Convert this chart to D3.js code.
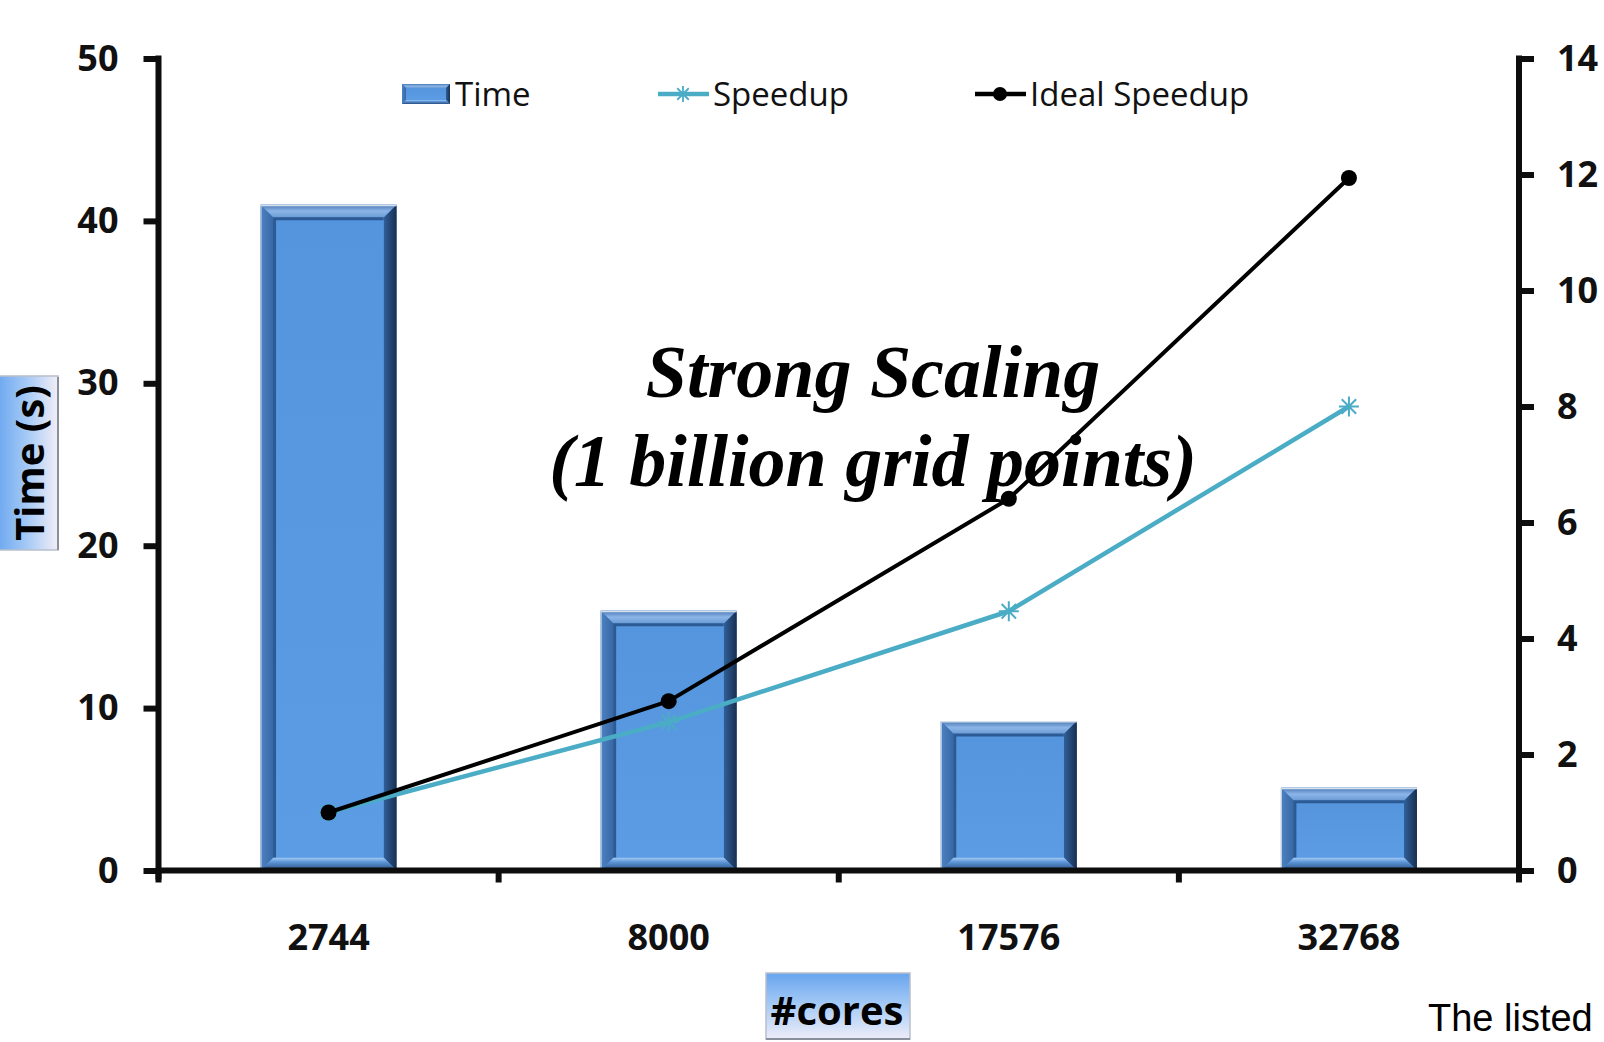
<!DOCTYPE html>
<html>
<head>
<meta charset="utf-8">
<script src="https://cdn.jsdelivr.net/npm/d3@7"></script>
<style>
  html, body { margin: 0; padding: 0; background: #fff; overflow: hidden; }
  svg { display: block; }
</style>
</head>
<body>
<svg id="chart" width="1604" height="1042"></svg>
<script>
// Strong scaling run: wall time per core count, measured and ideal speedup
const categories = ["2744", "8000", "17576", "32768"];
const timeSeconds = [41, 16, 9.2, 5.1];
const speedup = [1, 2.56, 4.47, 8.0];
const idealSpeedup = [1, 2.92, 6.41, 11.94];
const timeTicks = [0, 10, 20, 30, 40, 50];
const speedupTicks = [0, 2, 4, 6, 8, 10, 12, 14];
const legendLabels = ["Time", "Speedup", "Ideal Speedup"];
const titleLines = ["Strong Scaling", "(1 billion grid points)"];

const svg = d3.select("#chart");
const plot = { left: 158.5, right: 1519, top: 58.5, bottom: 870.5 };

const axisColor = "#0d0d0d";
const cyan = "#4bacc6";
const tickFont = "'Open Sans', sans-serif";

const x = d3.scaleBand()
  .domain(categories)
  .range([plot.left, plot.right])
  .paddingInner(0.6)
  .paddingOuter(0.3);

const yTime = d3.scaleLinear().domain([0, 50]).range([plot.bottom, plot.top]);
const ySpeed = d3.scaleLinear().domain([0, 14]).range([plot.bottom, plot.top]);

const defs = svg.append("defs");
function grad(id, vertical, stops) {
  const g = defs.append("linearGradient").attr("id", id)
    .attr("x1", 0).attr("y1", 0)
    .attr("x2", vertical ? 0 : 1).attr("y2", vertical ? 1 : 0);
  stops.forEach(([o, c]) => g.append("stop").attr("offset", o).attr("stop-color", c));
}
grad("bevTop", true, [[0, "#4877b4"], [0.5, "#8cb5e8"], [1, "#6a9ad4"]]);
grad("bevLeft", false, [[0, "#4d82c3"], [1, "#3867a4"]]);
grad("bevRight", false, [[0, "#30609a"], [1, "#182f50"]]);
grad("bevBottom", true, [[0, "#a6cdf5"], [0.35, "#5c95d8"], [1, "#284f80"]]);
grad("face", true, [[0, "#5595dd"], [1, "#5c9ce4"]]);
grad("btnH", false, [[0, "#6ea8f0"], [0.5, "#a7cbf6"], [1, "#f3eef6"]]);
grad("btnV", true, [[0, "#68a4ee"], [0.5, "#a8ccf6"], [1, "#eeecf8"]]);

const poly = pts => pts.map(p => p.join(",")).join(" ");

// draws one bevelled block into g
function bevelBlock(g, x0, x1, y0, y1, bw, shadow) {
  const b = Math.min(bw, (y1 - y0) / 2);
  g.append("rect").attr("x", x0).attr("y", y0).attr("width", x1 - x0).attr("height", y1 - y0)
    .attr("fill", "#5a96dc");
  g.append("polygon").attr("points", poly([[x0, y0], [x1, y0], [x1 - b, y0 + b], [x0 + b, y0 + b]]))
    .attr("fill", "url(#bevTop)");
  g.append("polygon").attr("points", poly([[x0, y0], [x0 + b, y0 + b], [x0 + b, y1 - b], [x0, y1]]))
    .attr("fill", "url(#bevLeft)");
  g.append("polygon").attr("points", poly([[x1, y0], [x1, y1], [x1 - b, y1 - b], [x1 - b, y0 + b]]))
    .attr("fill", "url(#bevRight)");
  g.append("polygon").attr("points", poly([[x0, y1], [x1, y1], [x1 - b, y1 - b], [x0 + b, y1 - b]]))
    .attr("fill", "url(#bevBottom)");
  g.append("rect").attr("x", x0 + b).attr("y", y0 + b)
    .attr("width", x1 - x0 - 2 * b).attr("height", Math.max(0, y1 - y0 - 2 * b))
    .attr("fill", "url(#face)");
  if (shadow) {
    g.append("path")
      .attr("d", `M${x0 + b + 1},${y1 - b} L${x0 + b + 1},${y0 + b + 1} L${x1 - b},${y0 + b + 1}`)
      .attr("fill", "none").attr("stroke", "#2c5a94").attr("stroke-width", 3);
    g.append("line").attr("x1", x0).attr("x2", x1).attr("y1", y0 + 0.75).attr("y2", y0 + 0.75)
      .attr("stroke", "#d6e0ea").attr("stroke-width", 1.5);
    g.append("line").attr("x1", x0 + 0.5).attr("x2", x0 + 0.5).attr("y1", y0).attr("y2", y1)
      .attr("stroke", "#c9d6e6").attr("stroke-width", 1);
  }
}

// ---- bars ----
svg.append("g").attr("class", "bars")
  .selectAll("g").data(categories.map((c, i) => ({ c, v: timeSeconds[i] })))
  .join("g")
  .each(function (d) {
    bevelBlock(d3.select(this), x(d.c), x(d.c) + x.bandwidth(), yTime(d.v), yTime(0), 13, true);
  });

// ---- axes ----
const axisW = 6;
const gLeft = svg.append("g").attr("transform", `translate(${plot.left},0)`)
  .call(d3.axisLeft(yTime).tickValues(timeTicks).tickSize(15).tickSizeOuter(0).tickPadding(25).tickFormat(d3.format("d")));
const gRight = svg.append("g").attr("transform", `translate(${plot.right},0)`)
  .call(d3.axisRight(ySpeed).tickValues(speedupTicks).tickSize(15).tickSizeOuter(0).tickPadding(23).tickFormat(d3.format("d")));
const gBottom = svg.append("g").attr("transform", `translate(0,${plot.bottom})`)
  .call(d3.axisBottom(x).tickSize(0).tickPadding(54));

[gLeft, gRight, gBottom].forEach(g => {
  g.select(".domain").remove();
  g.selectAll(".tick line").attr("stroke", axisColor).attr("stroke-width", axisW);
  g.selectAll(".tick text")
    .attr("fill", "#111")
    .style("font-family", tickFont)
    .style("font-weight", 700)
    .style("font-size", "36px");
});

// category boundary ticks under the category axis
const step = x.step();
const boundaries = d3.range(categories.length + 1).map(i => plot.left + i * step);
svg.append("g").selectAll("line").data(boundaries).join("line")
  .attr("x1", d => d).attr("x2", d => d)
  .attr("y1", plot.bottom).attr("y2", plot.bottom + 12)
  .attr("stroke", axisColor).attr("stroke-width", axisW);

// axis lines
const axisLines = svg.append("g").attr("stroke", axisColor).attr("stroke-width", axisW);
axisLines.append("line").attr("x1", plot.left).attr("x2", plot.left)
  .attr("y1", plot.top - 3).attr("y2", plot.bottom + 9);
axisLines.append("line").attr("x1", plot.right).attr("x2", plot.right)
  .attr("y1", plot.top - 3).attr("y2", plot.bottom + 9);
axisLines.append("line").attr("x1", plot.left).attr("x2", plot.right)
  .attr("y1", plot.bottom).attr("y2", plot.bottom);

// ---- speedup lines ----
const xc = c => x(c) + x.bandwidth() / 2;
const lineSpeed = d3.line().x((d, i) => xc(categories[i])).y(d => ySpeed(d));

svg.append("path").datum(speedup)
  .attr("d", lineSpeed).attr("fill", "none")
  .attr("stroke", cyan).attr("stroke-width", 4.5).attr("stroke-linejoin", "round");

function starPath(cx, cy, r) {
  const a = r * 0.72;
  return `M${cx - r},${cy}L${cx + r},${cy}M${cx},${cy - r}L${cx},${cy + r}` +
    `M${cx - a},${cy - a}L${cx + a},${cy + a}M${cx - a},${cy + a}L${cx + a},${cy - a}`;
}
svg.append("g").selectAll("path").data(speedup).join("path")
  .attr("d", (d, i) => starPath(xc(categories[i]), ySpeed(d), 10))
  .attr("stroke", cyan).attr("stroke-width", 2).attr("fill", "none");

svg.append("path").datum(idealSpeedup)
  .attr("d", lineSpeed).attr("fill", "none")
  .attr("stroke", "#000").attr("stroke-width", 4).attr("stroke-linejoin", "round");
svg.append("g").selectAll("circle").data(idealSpeedup).join("circle")
  .attr("cx", (d, i) => xc(categories[i])).attr("cy", d => ySpeed(d))
  .attr("r", 8).attr("fill", "#000");

// ---- legend ----
const legendFont = "'Open Sans', sans-serif";
const legend = svg.append("g");
const legX = [402, 658, 975];
const legY = 94;
bevelBlock(legend.append("g"), legX[0], legX[0] + 48, legY - 10, legY + 10, 4, false);
legend.append("line").attr("x1", legX[1]).attr("x2", legX[1] + 51).attr("y1", legY).attr("y2", legY)
  .attr("stroke", cyan).attr("stroke-width", 4.5);
legend.append("path").attr("d", starPath(legX[1] + 25, legY, 8)).attr("stroke", cyan).attr("stroke-width", 1.8);
legend.append("line").attr("x1", legX[2]).attr("x2", legX[2] + 51).attr("y1", legY).attr("y2", legY)
  .attr("stroke", "#000").attr("stroke-width", 4.5);
legend.append("circle").attr("cx", legX[2] + 25).attr("cy", legY).attr("r", 7).attr("fill", "#000");

const legTextX = [455, 713, 1030];
legend.selectAll("text").data(legendLabels).join("text")
  .attr("x", (d, i) => legTextX[i]).attr("y", legY + 12)
  .style("font-family", legendFont).style("font-size", "33px").attr("fill", "#111")
  .text(d => d);

// ---- axis titles in shaded buttons ----
const yTitle = svg.append("g");
yTitle.append("rect").attr("x", -2).attr("y", 376).attr("width", 60).attr("height", 174)
  .attr("fill", "url(#btnH)").attr("stroke", "#b9bfcc").attr("stroke-width", 1.5);
yTitle.append("line").attr("x1", 58).attr("x2", 58).attr("y1", 377).attr("y2", 550)
  .attr("stroke", "#8a8f9c").attr("stroke-width", 2);
yTitle.append("text")
  .attr("transform", "translate(44,463) rotate(-90)")
  .attr("text-anchor", "middle")
  .style("font-family", legendFont).style("font-weight", 700).style("font-size", "40px")
  .attr("fill", "#000").text("Time (s)");

const xTitle = svg.append("g");
xTitle.append("rect").attr("x", 766).attr("y", 973).attr("width", 144).attr("height", 66)
  .attr("fill", "url(#btnV)").attr("stroke", "#b9bfcc").attr("stroke-width", 1.5);
xTitle.append("line").attr("x1", 766).attr("x2", 910).attr("y1", 1039).attr("y2", 1039)
  .attr("stroke", "#8a8f9c").attr("stroke-width", 2);
xTitle.append("text")
  .attr("x", 837).attr("y", 1025).attr("text-anchor", "middle")
  .style("font-family", legendFont).style("font-weight", 700).style("font-size", "40px")
  .attr("fill", "#000").text("#cores");

// ---- chart annotation ----
const title = svg.append("g")
  .style("font-family", "'Liberation Serif', 'Times New Roman', serif")
  .style("font-weight", 700).style("font-style", "italic")
  .style("font-size", "74px").attr("fill", "#000");
title.selectAll("text").data(titleLines).join("text")
  .attr("x", 873).attr("y", (d, i) => 397 + i * 89)
  .attr("text-anchor", "middle").text(d => d);

// caption at the lower right
svg.append("text").attr("x", 1428).attr("y", 1031)
  .style("font-family", "'Liberation Sans', Arial, sans-serif").style("font-size", "38px")
  .attr("fill", "#000").text("The listed");
</script>
</body>
</html>
